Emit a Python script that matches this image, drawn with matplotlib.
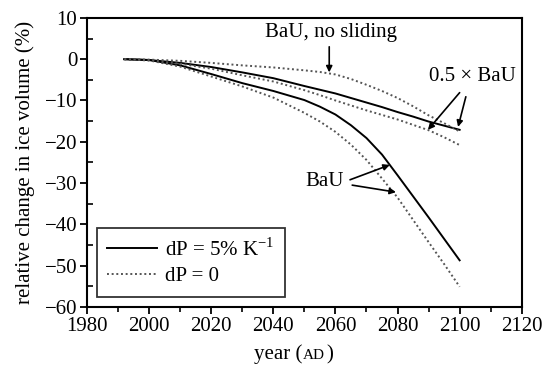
import numpy as np
import matplotlib.pyplot as plt
from matplotlib.ticker import MultipleLocator
from matplotlib.offsetbox import TextArea, HPacker, AnchoredOffsetbox

plt.rcParams['font.family'] = ['Liberation Serif', 'DejaVu Serif']

# years shared by all curves
years = [1992, 2000, 2010, 2020, 2030, 2040, 2050, 2055, 2060, 2065,
         2070, 2075, 2080, 2085, 2090, 2095, 2100]

# BaU scenario
bau_dp5 = [0, -0.2, -1.5, -3.6, -5.8, -7.7, -9.9, -11.5, -13.4, -16.0,
           -19.1, -23.1, -28.1, -33.2, -38.3, -43.5, -48.7]
bau_dp0 = [0, -0.3, -1.8, -4.2, -6.6, -9.3, -13.0, -15.1, -17.6, -20.7,
           -24.4, -28.9, -33.5, -38.9, -44.3, -49.6, -55.1]
# 0.5 x BaU scenario
half_dp5 = [0, -0.2, -0.9, -1.9, -3.2, -4.6, -6.5, -7.4, -8.3, -9.4,
            -10.5, -11.6, -12.8, -13.9, -15.1, -16.1, -17.1]
half_dp0 = [0, -0.3, -1.1, -2.3, -3.9, -5.4, -7.5, -8.7, -10.0, -11.2,
            -12.4, -13.5, -14.6, -15.9, -17.2, -18.9, -20.8]
# BaU without sliding
nosl_dp0 = [0, -0.1, -0.4, -0.9, -1.5, -2.0, -2.7, -3.1, -3.7, -4.8,
            -6.2, -7.7, -9.4, -11.4, -13.6, -15.5, -17.5]

fig = plt.figure(figsize=(5.58, 3.65), dpi=100)
ax = fig.add_axes([0.156, 0.159, 0.779, 0.792])

dot = (0, (1, 1.4))
dotcol = '#555555'
ax.plot(years, bau_dp5, color='black', lw=1.4, label='dP = 5% K$^{\\mathregular{-1}}$')
ax.plot(years, bau_dp0, color=dotcol, lw=1.4, ls=dot, label='dP = 0')
ax.plot(years, half_dp5, color='black', lw=1.4)
ax.plot(years, half_dp0, color=dotcol, lw=1.4, ls=dot)
ax.plot(years, nosl_dp0, color=dotcol, lw=1.4, ls=dot)

ax.set_xlim(1980, 2120)
ax.set_ylim(-60, 10)
ax.xaxis.set_major_locator(MultipleLocator(20))
ax.xaxis.set_minor_locator(MultipleLocator(10))
ax.yaxis.set_major_locator(MultipleLocator(10))
ax.yaxis.set_minor_locator(MultipleLocator(5))
ax.tick_params(axis='both', which='major', direction='out', length=5, width=1.3,
               labelsize=15, pad=2)
ax.tick_params(axis='x', which='minor', direction='out', length=3.5, width=1.2)
ax.tick_params(axis='y', which='minor', direction='in', length=4, width=1.2)
for s in ax.spines.values():
    s.set_linewidth(1.5)

ax.set_ylabel('relative change in ice volume (%)', fontsize=15, labelpad=7)

# x label with small-caps "AD"
parts = [TextArea('year (', textprops=dict(size=15)),
         TextArea('AD', textprops=dict(size=11)),
         TextArea(')', textprops=dict(size=15))]
box = HPacker(children=parts, align='baseline', pad=0, sep=1)
anc = AnchoredOffsetbox(loc='upper center', child=box, frameon=False,
                        bbox_to_anchor=(0.475, -0.13), bbox_transform=ax.transAxes,
                        borderpad=0, pad=0)
ax.add_artist(anc)

leg = ax.legend(loc='lower left', bbox_to_anchor=(0.022, 0.035), fontsize=15,
                frameon=True, fancybox=False, edgecolor='black', handlelength=2.4,
                handletextpad=0.4, borderpad=0.5, labelspacing=0.3,
                borderaxespad=0)
leg.get_frame().set_linewidth(1.3)

arr = dict(arrowstyle='-|>', color='black', lw=1.2, mutation_scale=9,
           shrinkA=0, shrinkB=0)
ax.text(2058.5, 6.4, 'BaU, no sliding', fontsize=15, ha='center', va='center')
ax.annotate('', xy=(2058, -3.2), xytext=(2058, 3.0), arrowprops=arr)
ax.text(2104, -4.2, '0.5 × BaU', fontsize=15, ha='center', va='center')
ax.annotate('', xy=(2089.8, -17.1), xytext=(2100, -8.1), arrowprops=arr)
ax.annotate('', xy=(2099.5, -16.4), xytext=(2102, -9.1), arrowprops=arr)
ax.text(2056.5, -29.7, 'BaU', fontsize=15, ha='center', va='center')
ax.annotate('', xy=(2077.5, -25.6), xytext=(2064.7, -29.2), arrowprops=arr)
ax.annotate('', xy=(2079.5, -32.2), xytext=(2065.4, -30.5), arrowprops=arr)

fig.savefig('out.png', dpi=100)
